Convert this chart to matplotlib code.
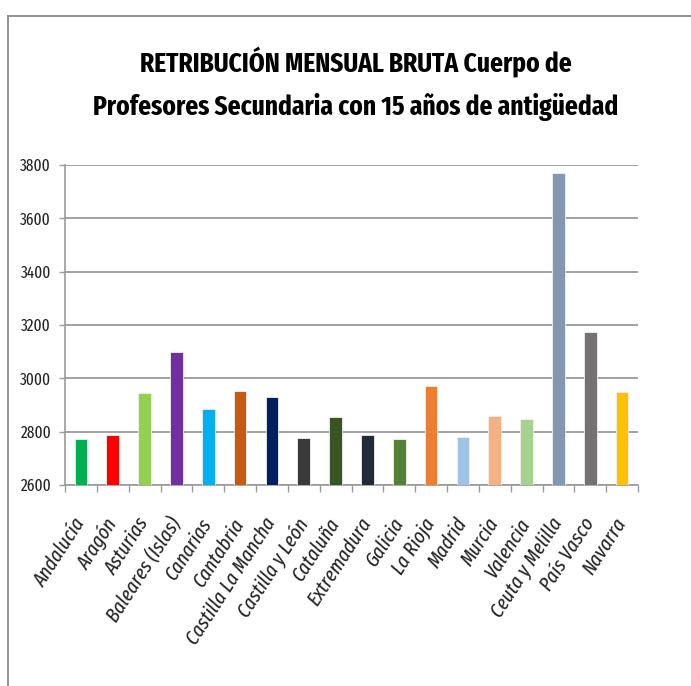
import matplotlib
matplotlib.use("Agg")
import matplotlib.pyplot as plt
from matplotlib.lines import Line2D
from matplotlib import font_manager as fm

categories = ["Andalucía", "Aragón", "Asturias", "Baleares (Islas)", "Canarias", "Cantabria",
              "Castilla La Mancha", "Castilla y León", "Cataluña", "Extremadura", "Galicia",
              "La Rioja", "Madrid", "Murcia", "Valencia", "Ceuta y Melilla", "País Vasco", "Navarra"]
values = [2774, 2787, 2946, 3097, 2884, 2951, 2930, 2775, 2855, 2787, 2771, 2972, 2780,
          2859, 2846, 3769, 3172, 2947]
colors = ["#00B050", "#FF0000", "#92D050", "#7030A0", "#00B0F0", "#C55A11", "#002060",
          "#3A3A3A", "#375623", "#222A35", "#548235", "#ED7D31", "#9DC3E6", "#F4B183",
          "#A9D18E", "#8497B0", "#767171", "#FFC000"]
yticks = [2600, 2800, 3000, 3200, 3400, 3600, 3800]
title_lines = ["RETRIBUCIÓN MENSUAL BRUTA Cuerpo de",
               "Profesores Secundaria con 15 años de antigüedad"]

entries = {(f.name, f.style, f.weight) for f in fm.fontManager.ttflist}
prefs = ["Fira Sans Extra Condensed", "Barlow Condensed", "Archivo Narrow", "PT Sans Narrow",
         "Roboto Condensed", "Open Sans Condensed", "Encode Sans Condensed",
         "Sofia Sans Condensed", "Carlito"]

def pick(style="normal", bold=False):
    for p in prefs:
        for (n, s, w) in entries:
            if n == p and s == style and ((w == 700) if bold else (w == 400)):
                return p
    return "DejaVu Sans"

F_REG = pick()
F_BOLD = pick(bold=True)
F_ITAL = pick(style="italic")

fig = plt.figure(figsize=(6.91, 6.86), dpi=100)
renderer = fig.canvas.get_renderer()

def fit_size(text, family, target_w, base=20, **kw):
    t = fig.text(0, 0, text, fontsize=base, family=family, **kw)
    w = t.get_window_extent(renderer).width
    t.remove()
    return base * target_w / w

ax = fig.add_axes([65/691, 1-485/686, (638-65)/691, (485-165)/686])

x = list(range(len(categories)))
ax.bar(x, [v - yticks[0] for v in values], bottom=yticks[0], width=0.4, color=colors,
       edgecolor="#f0f0f0", linewidth=0.6, zorder=3)
ax.set_xlim(-0.5, len(categories) - 0.5)
ax.set_ylim(yticks[0], yticks[-1])

ysize = fit_size("3800", [F_REG, "DejaVu Sans"], 31)
ax.set_yticks(yticks)
ax.set_yticklabels([str(t) for t in yticks], fontsize=ysize, family=[F_REG, "DejaVu Sans"],
                   color="#222222")
ax.grid(axis="y", color="#9a9a9a", linewidth=1.3, zorder=0)

xsize = fit_size("Castilla La Mancha", [F_ITAL, "DejaVu Sans"], 148, style="italic")
ax.set_xticks(x)
ax.set_xticklabels(categories, rotation=57, ha="right", va="center", rotation_mode="anchor",
                   fontsize=xsize, family=[F_ITAL, "DejaVu Sans"], style="italic",
                   color="#222222")
ax.set_xticks([i - 0.5 for i in range(len(categories) + 1)], minor=True)
ax.tick_params(axis="x", which="major", length=0, pad=25)
ax.tick_params(axis="x", which="minor", length=5, color="#9a9a9a", width=1)
ax.tick_params(axis="y", length=4, color="#9a9a9a", width=1, pad=6)
for s in ["top", "right"]:
    ax.spines[s].set_visible(False)
for s in ["left", "bottom"]:
    ax.spines[s].set_color("#9a9a9a")
    ax.spines[s].set_linewidth(1.2)

tsize = fit_size(title_lines[1], [F_BOLD, "DejaVu Sans"], 526, fontweight="bold")
for line, yb in zip(title_lines, [72, 115]):
    fig.text(356/691, 1-yb/686, line, ha="center", va="baseline", fontsize=tsize,
             fontweight="bold", family=[F_BOLD, "DejaVu Sans"], color="black")

fig.add_artist(Line2D([7.5/691, 7.5/691], [0, 1-16/686], color="#8a8a8a", linewidth=1.3))
fig.add_artist(Line2D([7.5/691, 1], [1-16/686, 1-16/686], color="#8a8a8a", linewidth=1.3))

fig.savefig("out.png", dpi=100, facecolor="white")
